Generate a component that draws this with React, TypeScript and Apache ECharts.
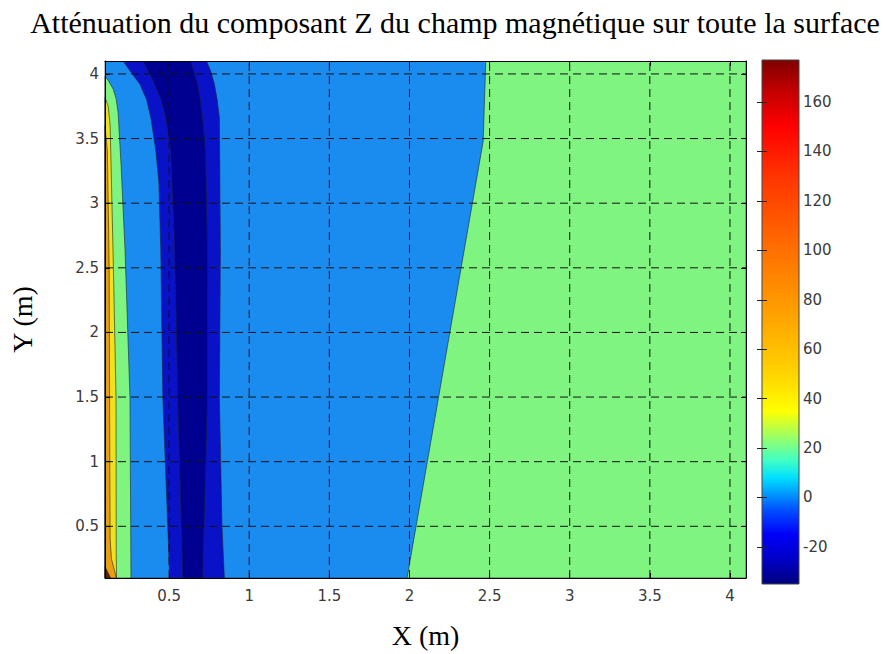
import React, { useEffect, useRef } from "react";
import * as echarts from "echarts";

// ---- axes / ticks ----
const X_RANGE = [0.1, 4.1];
const Y_RANGE = [0.1, 4.1];
const X_TICKS = [0.5, 1, 1.5, 2, 2.5, 3, 3.5, 4];
const Y_TICKS = [0.5, 1, 1.5, 2, 2.5, 3, 3.5, 4];
const CB_RANGE = [-35, 177];
const CB_TICKS = [-20, 0, 20, 40, 60, 80, 100, 120, 140, 160];

// ---- colormap of the colour bar (value -> colour) ----
const CB_VALUES = [-35, -25, -15, -5, 0, 8, 15, 25, 35, 50, 70, 100, 130, 150, 165, 177];
const CB_COLORS = ["#00007f", "#0000c8", "#0000f8", "#0050ff", "#0088ff", "#00e0ff", "#40ffc4", "#a0ff60", "#ffff00", "#ffd400", "#ffaa00", "#ff7000", "#ff3400", "#ff0000", "#c00000", "#7f0000"];

// ---- filled contour regions (level, boundary in data units), painted in order ----
const R_BASE = [[0.1, 0.1], [4.1, 0.1], [4.1, 4.1], [0.1, 4.1]];
const R_RIGHT = [[1.985, 0.1], [2.46, 3.48], [2.476, 4.1], [4.1, 4.1], [4.1, 0.1]];
const R_BAND_OUTER = [
  [0.213, 4.1], [0.27, 4.0], [0.318, 3.92], [0.36, 3.8], [0.386, 3.66], [0.417, 3.41], [0.436, 3.16], [0.448, 2.64], [0.461, 1.49], [0.504, 0.1],
  [0.845, 0.1], [0.83, 0.5], [0.814, 1.49], [0.82, 2.64], [0.814, 3.66], [0.8, 3.8], [0.783, 3.92], [0.76, 4.02], [0.733, 4.1],
];
const R_BAND_INNER = [
  [0.337, 4.1], [0.38, 4.0], [0.411, 3.92], [0.45, 3.8], [0.479, 3.66], [0.51, 3.41], [0.535, 2.64], [0.554, 1.49], [0.585, 0.1],
  [0.709, 0.1], [0.74, 1.49], [0.74, 2.64], [0.727, 3.41], [0.709, 3.66], [0.695, 3.8], [0.678, 3.92], [0.655, 4.02], [0.634, 4.1],
];
const R_LEFT_1 = [
  [0.1, 3.98], [0.12, 3.95], [0.152, 3.88], [0.169, 3.81], [0.182, 3.7], [0.2, 3.3], [0.225, 2.64], [0.256, 1.49], [0.262, 0.1], [0.1, 0.1],
];
const R_LEFT_2 = [
  [0.1, 3.82], [0.12, 3.75], [0.132, 3.6], [0.15, 2.64], [0.169, 1.49], [0.17, 0.3], [0.172, 0.1], [0.1, 0.1],
];
const R_LEFT_3 = [
  [0.1, 3.6], [0.115, 3.4], [0.126, 2.5], [0.13, 1.0], [0.132, 0.4], [0.14, 0.25], [0.165, 0.13], [0.17, 0.1], [0.1, 0.1],
];
const R_CORNER = [[0.1, 0.19], [0.115, 0.15], [0.135, 0.1], [0.1, 0.1]];

const REGION_SHAPES = [R_BASE, R_RIGHT, R_BAND_OUTER, R_BAND_INNER, R_LEFT_1, R_LEFT_2, R_LEFT_3, R_CORNER];
const REGION_LEVELS = [5, 20, -15, -28, 20, 40, 70, 170];

// styles (kept apart from data)
const LEVEL_FILL: Record<number, string> = {
  5: "#1a8cf0",
  20: "#80f480",
  [-15]: "#0a12c8",
  [-28]: "#000090",
  40: "#f2e01a",
  70: "#e8a010",
  170: "#5c2008",
};

const SERIF = '"Liberation Serif", "Times New Roman", serif';
const SANS = '"DejaVu Sans", "Liberation Sans", Arial, sans-serif';

export default function App() {
  const ref = useRef<HTMLDivElement>(null);
  useEffect(() => {
    if (!ref.current) return;
    const chart = echarts.init(ref.current, undefined, { renderer: "svg" });
    const cbStops = CB_VALUES.map((v, i) => ({
      offset: (v - CB_RANGE[0]) / (CB_RANGE[1] - CB_RANGE[0]),
      color: CB_COLORS[i],
    }));
    const tickLabel = { color: "#3a3a3a", fontFamily: SANS, fontSize: 15 };
    const mainX = {
      type: "value",
      gridIndex: 0,
      min: X_RANGE[0],
      max: X_RANGE[1],
      z: 10,
      axisLine: { show: true, onZero: false, lineStyle: { color: "#000", width: 1 } },
      axisTick: { show: true, inside: true, length: 5, customValues: X_TICKS, lineStyle: { color: "#000" } },
      splitLine: { show: false },
    };
    const mainY = {
      type: "value",
      gridIndex: 0,
      min: Y_RANGE[0],
      max: Y_RANGE[1],
      z: 10,
      axisLine: { show: true, onZero: false, lineStyle: { color: "#000", width: 1 } },
      axisTick: { show: true, inside: true, length: 5, customValues: Y_TICKS, lineStyle: { color: "#000" } },
      splitLine: { show: false },
    };
    const option: any = {
      animation: false,
      backgroundColor: "#ffffff",
      graphic: [
        {
          type: "text",
          x: 455,
          y: 22,
          style: {
            text: "Atténuation du composant Z du champ magnétique sur toute la surface",
            font: `30px ${SERIF}`,
            fill: "#000",
            textAlign: "center",
            textVerticalAlign: "middle",
          },
        },
      ],
      grid: [
        { left: 101, top: 61, width: 645, height: 521, containLabel: false },
        { left: 762, top: 60, width: 37, height: 524, containLabel: false },
      ],
      xAxis: [
        {
          ...mainX,
          position: "bottom",
          name: "X (m)",
          nameLocation: "middle",
          nameGap: 43,
          nameTextStyle: { fontFamily: SERIF, fontSize: 28, color: "#000" },
          axisLabel: { ...tickLabel, margin: 10, customValues: X_TICKS },
        },
        { ...mainX, position: "top", axisLabel: { show: false } },
        { type: "value", gridIndex: 1, min: 0, max: 1, show: false },
      ],
      yAxis: [
        {
          ...mainY,
          position: "left",
          name: "Y (m)",
          nameLocation: "middle",
          nameGap: 69,
          nameTextStyle: { fontFamily: SERIF, fontSize: 28, color: "#000" },
          axisLabel: { ...tickLabel, margin: 6, customValues: Y_TICKS },
        },
        { ...mainY, position: "right", axisLabel: { show: false } },
        {
          type: "value",
          gridIndex: 1,
          min: CB_RANGE[0],
          max: CB_RANGE[1],
          position: "right",
          z: 10,
          axisLine: { show: false },
          axisTick: { show: true, inside: true, length: 5, customValues: CB_TICKS, lineStyle: { color: "#222" } },
          axisLabel: { ...tickLabel, margin: 4, customValues: CB_TICKS },
          splitLine: { show: false },
        },
        {
          type: "value",
          gridIndex: 1,
          min: CB_RANGE[0],
          max: CB_RANGE[1],
          position: "left",
          z: 10,
          axisLine: { show: false },
          axisTick: { show: true, inside: true, length: 5, customValues: CB_TICKS, lineStyle: { color: "#222" } },
          axisLabel: { show: false },
          splitLine: { show: false },
        },
      ],
      series: [
        {
          type: "custom",
          name: "contours",
          xAxisIndex: 0,
          yAxisIndex: 0,
          clip: true,
          z: 1,
          data: REGION_SHAPES.map((s, i) => ({ value: [s[0][0], s[0][1], REGION_LEVELS[i]] })),
          encode: { x: 0, y: 1 },
          renderItem: (params: any, api: any) => {
            const i = params.dataIndex;
            const pts = REGION_SHAPES[i].map((p) => api.coord(p));
            return {
              type: "polygon",
              shape: { points: pts },
              style: { fill: LEVEL_FILL[REGION_LEVELS[i]], stroke: "#1c2430", lineWidth: 0.6 },
            };
          },
        },
        {
          type: "custom",
          name: "xgrid",
          xAxisIndex: 0,
          yAxisIndex: 0,
          clip: true,
          z: 3,
          data: X_TICKS.map((v) => ({ value: [v, Y_RANGE[0]] })),
          encode: { x: 0, y: 1 },
          renderItem: (params: any, api: any) => {
            const v = X_TICKS[params.dataIndex];
            const a = api.coord([v, Y_RANGE[0]]);
            const b = api.coord([v, Y_RANGE[1]]);
            return {
              type: "line",
              shape: { x1: a[0], y1: a[1], x2: b[0], y2: b[1] },
              style: { stroke: "#111", lineWidth: 1, lineDash: [8, 5] },
            };
          },
        },
        {
          type: "custom",
          name: "ygrid",
          xAxisIndex: 0,
          yAxisIndex: 0,
          clip: true,
          z: 3,
          data: Y_TICKS.map((v) => ({ value: [X_RANGE[0], v] })),
          encode: { x: 0, y: 1 },
          renderItem: (params: any, api: any) => {
            const v = Y_TICKS[params.dataIndex];
            const a = api.coord([X_RANGE[0], v]);
            const b = api.coord([X_RANGE[1], v]);
            return {
              type: "line",
              shape: { x1: a[0], y1: a[1], x2: b[0], y2: b[1] },
              style: { stroke: "#111", lineWidth: 1, lineDash: [8, 5] },
            };
          },
        },
        {
          type: "custom",
          name: "colorbar",
          xAxisIndex: 2,
          yAxisIndex: 2,
          z: 1,
          data: [{ value: [0, CB_RANGE[0]] }],
          encode: { x: 0, y: 1 },
          renderItem: (params: any, api: any) => {
            const a = api.coord([0, CB_RANGE[1]]);
            const b = api.coord([1, CB_RANGE[0]]);
            return {
              type: "rect",
              shape: { x: a[0], y: a[1], width: b[0] - a[0], height: b[1] - a[1] },
              style: {
                fill: new echarts.graphic.LinearGradient(0, 1, 0, 0, cbStops),
                stroke: "#444",
                lineWidth: 1,
              },
            };
          },
        },
      ],
    };
    chart.setOption(option);
    return () => chart.dispose();
  }, []);
  return (
    <div
      ref={ref}
      style={{ position: "absolute", left: 0, top: 0, width: 883, height: 654, background: "#fff" }}
    />
  );
}
